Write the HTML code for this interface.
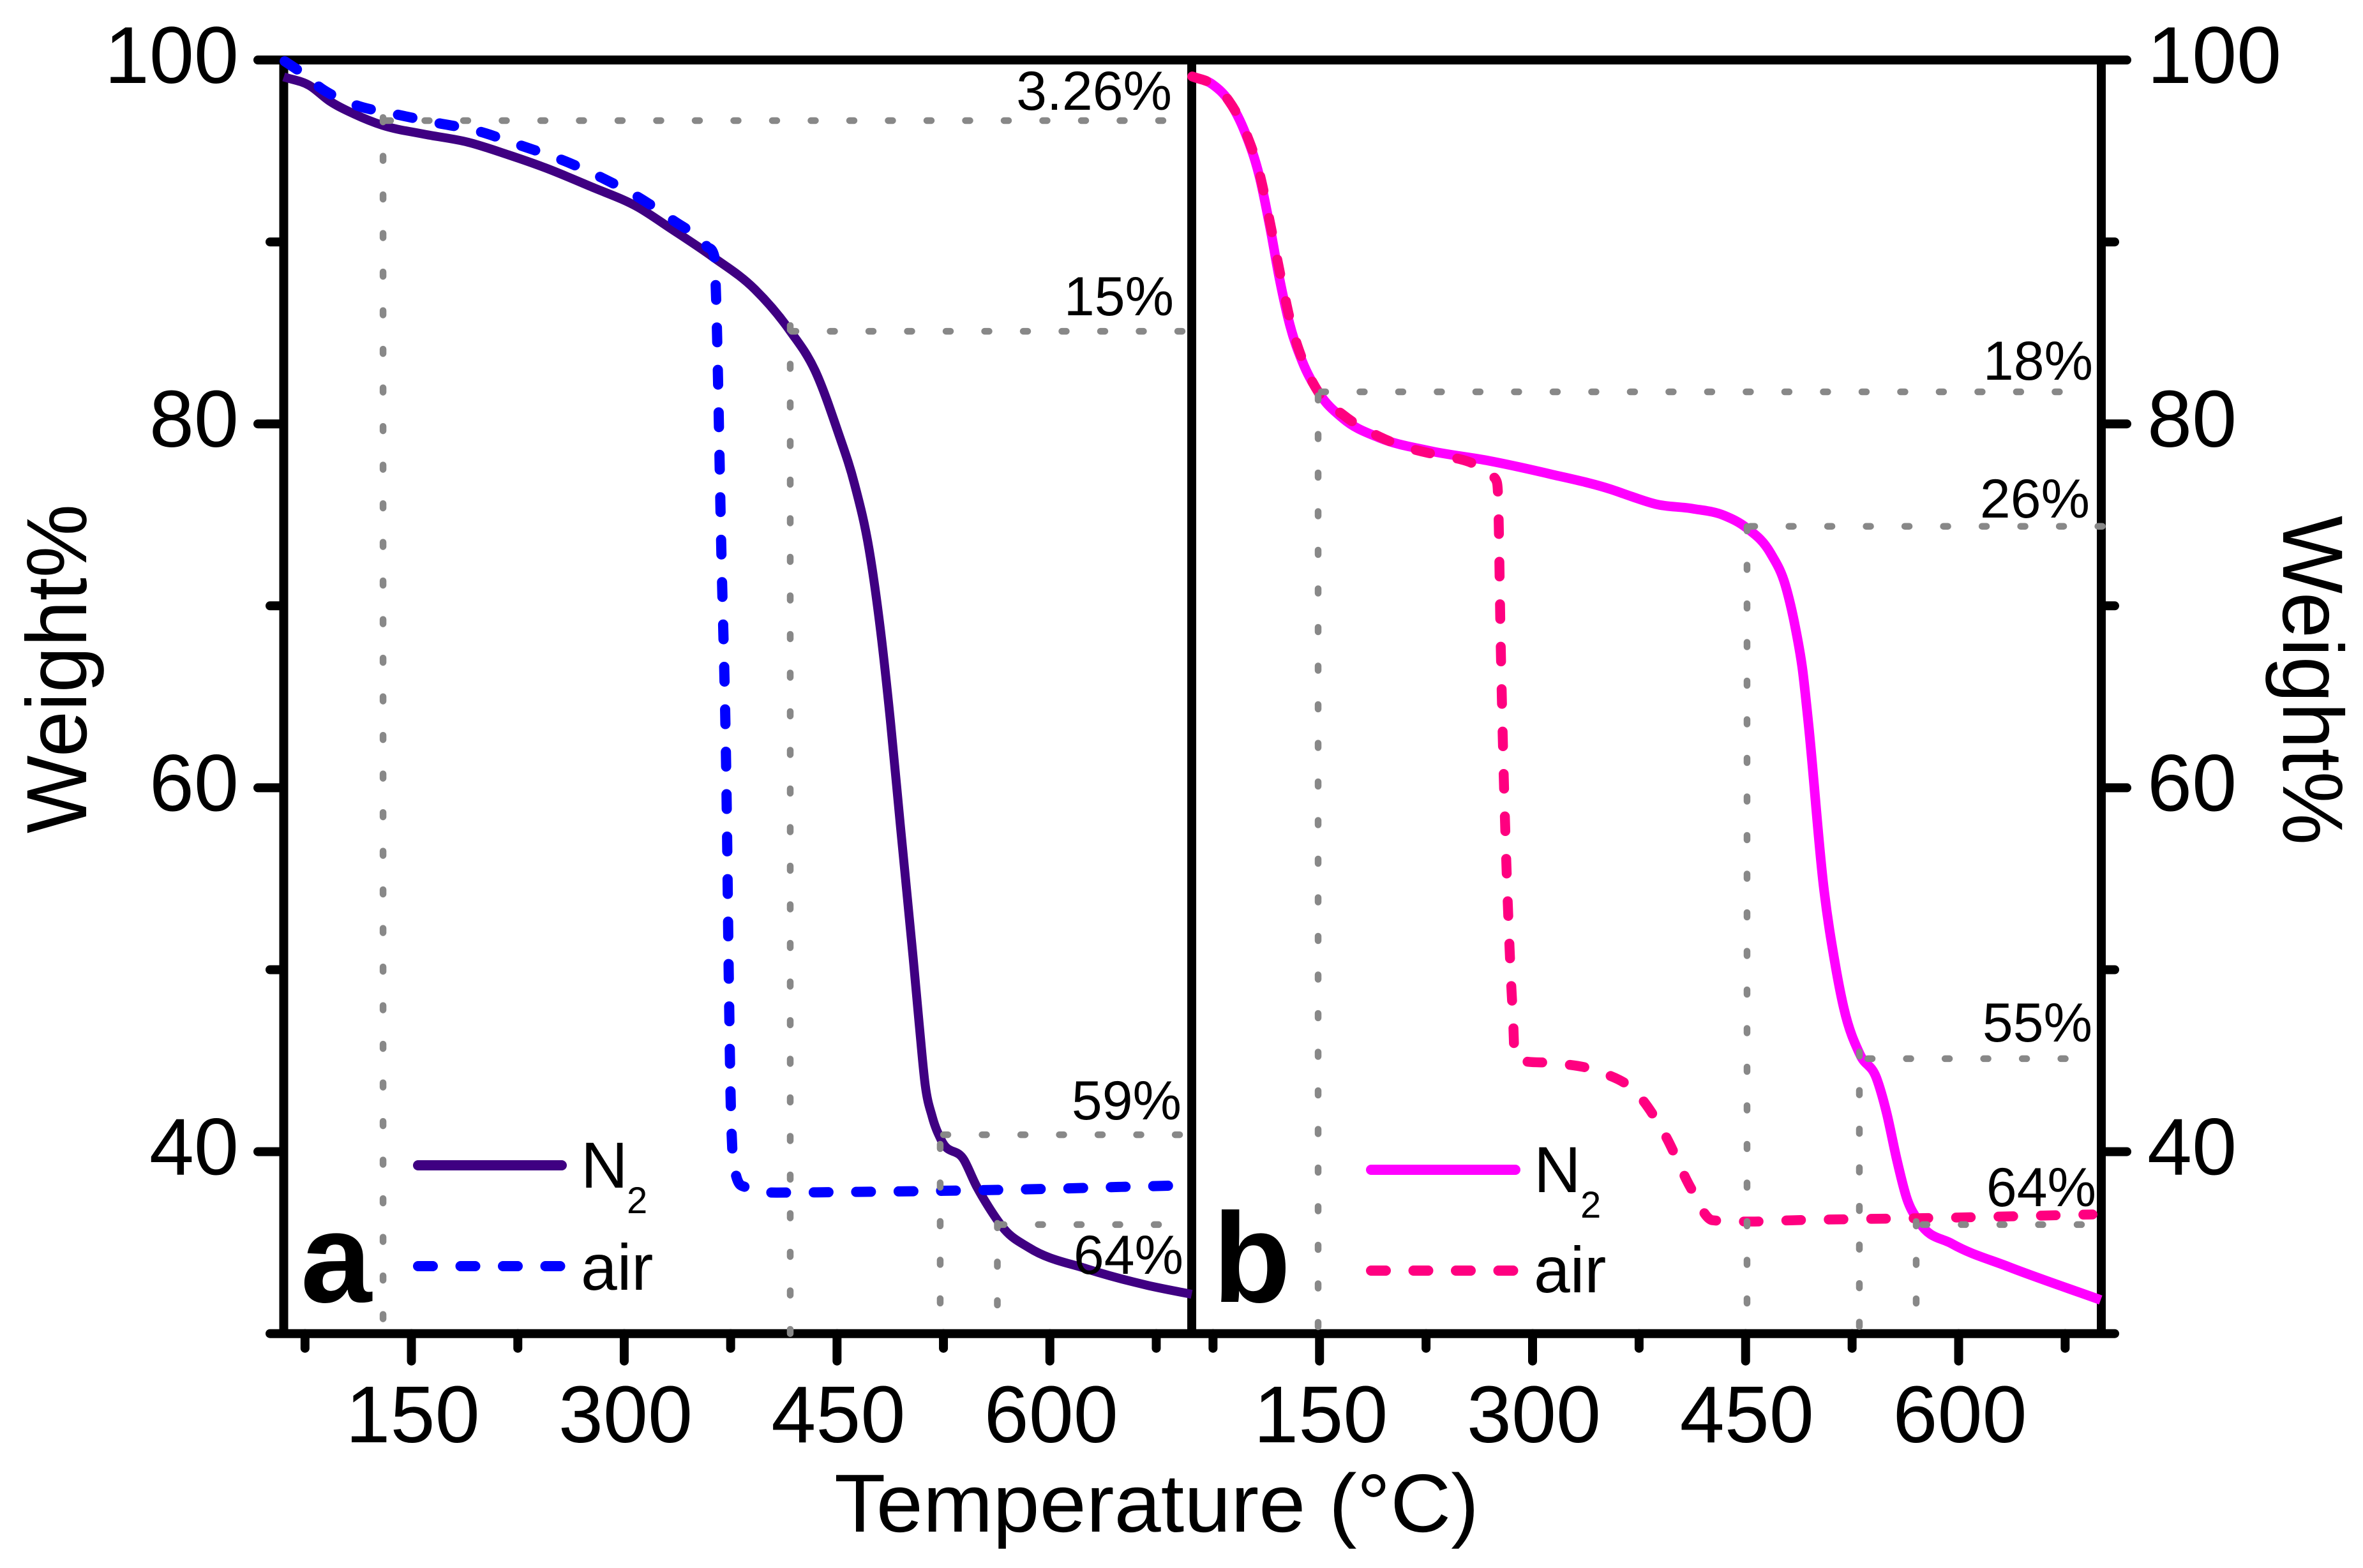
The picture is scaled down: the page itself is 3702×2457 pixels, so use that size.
<!DOCTYPE html>
<html lang="en">
<head>
<meta charset="utf-8">
<title>TGA weight loss curves</title>
<style>
html,body{margin:0;padding:0;background:#fff;}
svg{display:block;}
text{font-family:"Liberation Sans",Arial,sans-serif;fill:#000;}
</style>
</head>
<body>
<svg id="chart" xmlns="http://www.w3.org/2000/svg" width="3702" height="2457" viewBox="0 0 3702 2457">
  <rect x="0" y="0" width="3702" height="2457" fill="#fff"/>
  <g id="axes"></g>
  <g id="series"></g>
  <g id="guides"></g>
  <g id="labels"></g>

  <text transform="translate(135,1048) rotate(-90)" text-anchor="middle" font-size="134" textLength="516" lengthAdjust="spacingAndGlyphs">Weight%</text>
  <text transform="translate(3577,1066) rotate(90)" text-anchor="middle" font-size="134" textLength="516" lengthAdjust="spacingAndGlyphs">Weight%</text>
  <text x="1812" y="2400" text-anchor="middle" font-size="129" textLength="1010" lengthAdjust="spacingAndGlyphs">Temperature (°C)</text>

  <text x="1836" y="172" text-anchor="end" font-size="86">3.26%</text>
  <text x="1839" y="494" text-anchor="end" font-size="86">15%</text>
  <text x="1851" y="1754" text-anchor="end" font-size="86">59%</text>
  <text x="1854" y="1996" text-anchor="end" font-size="86">64%</text>
  <text x="3279" y="595" text-anchor="end" font-size="86">18%</text>
  <text x="3274" y="811" text-anchor="end" font-size="86">26%</text>
  <text x="3278" y="1632" text-anchor="end" font-size="86">55%</text>
  <text x="3284" y="1890" text-anchor="end" font-size="86">64%</text>

  <text x="471" y="2040" font-size="200" font-weight="bold">a</text>
  <text x="1900" y="2040" font-size="200" font-weight="bold">b</text>

  <g>
    <line x1="655" y1="1826" x2="880" y2="1826" stroke="#3f0082" stroke-width="16" stroke-linecap="round"/>
    <text x="910" y="1861" font-size="102">N</text>
    <text x="982" y="1901" font-size="58">2</text>
    <line x1="655" y1="1984" x2="878" y2="1984" stroke="#0000ff" stroke-width="16" stroke-linecap="round" stroke-dasharray="23 43.5"/>
    <text x="910" y="2021" font-size="102">air</text>
  </g>
  <g>
    <line x1="2148" y1="1833" x2="2374" y2="1833" stroke="#ff00ff" stroke-width="16" stroke-linecap="round"/>
    <text x="2403" y="1868" font-size="102">N</text>
    <text x="2476" y="1908" font-size="58">2</text>
    <line x1="2148" y1="1991" x2="2371" y2="1991" stroke="#ff0080" stroke-width="16" stroke-linecap="round" stroke-dasharray="23 43.5"/>
    <text x="2403" y="2025" font-size="102">air</text>
  </g>
</svg>
<script>
// --- tick data ---
const xMajorTicks = [150, 300, 450, 600];
const xMinorTicks = [75, 225, 375, 525, 675];
const yMajorTicks = [40, 60, 80, 100];
const yMinorTicks = [50, 70, 90];
const xTickLabels = ['150', '300', '450', '600'];
const yTickLabels = ['40', '60', '80', '100'];

// --- panel a: N2 ---
const aN2Temp = [60,78.1,92.4,109.7,129.7,158.3,190,218.6,244.5,276.2,309.9,332,362,392,417,434.5,450.5,462.4,472.6,480.7,487.6,494.7,503.6,507.9,512.2,517.1,523.6,539.4,547.9,556.7,568.2,585.3,625.5,668.5,700];
const aN2Weight = [99.07,98.6,97.74,97.03,96.41,95.93,95.48,94.78,94.07,93.05,91.9,90.78,89.2,87.4,85.1,82.93,79.59,76.67,73.1,68.61,63.7,57.87,50.68,47.03,43.63,41.92,40.62,39.55,38.16,36.98,35.71,34.72,33.57,32.66,32.16];
// --- panel a: air ---
const aAirTemp = [60.7,69.5,89.5,111.1,138.3,166.9,195.6,227.1,258.9,284.7,309.9,334,358.1,363.5,364.2,368.4,372.2,373.6,375.1,378.8,385,407.5,464.7,525,591.1,648.5,685.8];
const aAirWeight = [99.93,99.47,98.28,97.51,97.03,96.56,96.12,95.3,94.42,93.51,92.46,91.21,89.76,89.2,88.18,73.17,59.21,50.16,42.55,38.69,38.06,37.75,37.79,37.85,37.94,38.06,38.13];
// --- panel b: N2 ---
const bN2Temp = [60.4,74.8,86.1,97.8,107.6,114.8,122,129.2,137.8,149.3,166.5,192.1,226.7,269.4,312.6,355.7,369.7,386.7,412.8,435.1,450.6,467.6,478,485,490.1,494.2,504.9,513.3,519.1,530.6,542.1,549.3,556.5,563.6,572.2,595.3,635.3,700];
const bN2Weight = [99.09,98.65,97.76,95.97,93.63,90.95,87.9,85.41,83.44,81.73,80.3,79.24,78.53,77.97,77.24,76.39,76.01,75.59,75.34,74.96,74.29,72.89,71.13,68.82,66.47,63.56,54.6,50.2,47.91,45.33,44.05,42.13,39.55,37.41,36.13,34.94,33.67,31.85];
// --- panel b: air ---
const bAirTemp = [60.4,74.8,86.1,98.3,108.2,115.4,123.2,130.2,138.4,149.3,166.5,192.1,226.7,239.8,265.8,269.9,274.8,275.7,277.5,284.3,286.5,287.3,292.1,316.6,348.1,373.7,393.9,411,426.7,454.2,483.2,533.3,592.1,655.5,694.2];
const bAirWeight = [99.09,98.65,97.76,95.97,93.63,90.95,87.9,85.41,83.44,81.73,80.5,79.3,78.4,78.22,77.45,77.17,76.82,76.04,68.22,50.26,46.83,45.32,45,44.86,44.37,43.19,40.83,38.06,36.23,36.16,36.23,36.3,36.37,36.48,36.55];

// --- guides: marked onset temperatures and weights ---
const aGuideTemp = [130, 417, 522.7, 563];
const aGuideWeight = [96.67, 85.09, 40.93, 35.99];
const aGuideStartTemp = [132.2, 417.9, 525, 564.6];
const aGuideEndTemp = [681, 694.6, 692.3, 678.8];
const aGuideStartWeight = [96.84, 85.41, 40.41, 36.06];
const aGuideEndWeight = [30.76, 30, 31.57, 31.5];
const bGuideTemp = [149, 451, 530.1, 570.1];
const bGuideWeight = [81.76, 74.37, 45.11, 35.99];
const bGuideStartTemp = [151.2, 453.3, 536, 574.6];
const bGuideEndTemp = [672.6, 702.7, 677, 688.3];
const bGuideStartWeight = [81.55, 74.36, 45.49, 36.16];
const bGuideEndWeight = [30.27, 31.64, 30.34, 31.64];

// --- axis functions ---
function xA(t) { return 444.5 + (t - 60) * 2.2227; }
function xB(t) { return 1867 + (t - 60) * 2.225; }
function yW(w) { return 94 + (100 - w) * 28.51; }

const NS = 'http://www.w3.org/2000/svg';
const axesG = document.getElementById('axes');
const seriesG = document.getElementById('series');
const guidesG = document.getElementById('guides');
const labelsG = document.getElementById('labels');

function addLine(parent, name, x1, y1, x2, y2, color, width, cap, dash) {
  const el = document.createElementNS(NS, 'line');
  
  
  el.setAttribute('x1', x1);
  el.setAttribute('y1', y1);
  el.setAttribute('x2', x2);
  el.setAttribute('y2', y2);
  el.setAttribute('stroke', color);
  el.setAttribute('stroke-width', width);
  el.setAttribute('stroke-linecap', cap);
  if (dash) el.setAttribute('stroke-dasharray', dash);
  parent.appendChild(el);
}

function addLabel(name, x, y, anchor, str) {
  const el = document.createElementNS(NS, 'text');
  
  
  el.setAttribute('x', x);
  el.setAttribute('y', y);
  el.setAttribute('text-anchor', anchor);
  el.setAttribute('font-size', '126');
  el.textContent = str;
  labelsG.appendChild(el);
}

// smooth monotone cubic path through the points (x increasing)
function monotonePath(xs, ys) {
  const n = xs.length;
  const h = [], s = [], m = [];
  for (let i = 0; i < n - 1; i++) {
    h[i] = xs[i + 1] - xs[i];
    s[i] = (ys[i + 1] - ys[i]) / h[i];
  }
  m[0] = s[0];
  m[n - 1] = s[n - 2];
  for (let i = 1; i < n - 1; i++) {
    if (s[i - 1] * s[i] <= 0) {
      m[i] = 0;
    } else {
      const p = (s[i - 1] * h[i] + s[i] * h[i - 1]) / (h[i - 1] + h[i]);
      m[i] = Math.sign(s[i]) * Math.min(Math.abs(p), 3 * Math.min(Math.abs(s[i - 1]), Math.abs(s[i])));
    }
  }
  let d = 'M' + xs[0].toFixed(1) + ' ' + ys[0].toFixed(1);
  for (let i = 0; i < n - 1; i++) {
    const dx = h[i] / 3;
    d += 'C' + (xs[i] + dx).toFixed(1) + ' ' + (ys[i] + m[i] * dx).toFixed(1) + ' ' +
         (xs[i + 1] - dx).toFixed(1) + ' ' + (ys[i + 1] - m[i + 1] * dx).toFixed(1) + ' ' +
         xs[i + 1].toFixed(1) + ' ' + ys[i + 1].toFixed(1);
  }
  return d;
}

function addCurve(name, temps, weights, xFn, color, width, dash) {
  const el = document.createElementNS(NS, 'path');
  
  
  el.setAttribute('d', monotonePath(temps.map(xFn), weights.map(yW)));
  el.setAttribute('fill', 'none');
  el.setAttribute('stroke', color);
  el.setAttribute('stroke-width', width);
  el.setAttribute('stroke-linejoin', 'round');
  if (dash) {
    el.setAttribute('stroke-dasharray', dash);
    el.setAttribute('stroke-linecap', 'round');
  }
  seriesG.appendChild(el);
}

function addGuides(prefix, xFn, temps, weights, startT, endT, startW, endW) {
  const dash = '7 53.5';
  for (let i = 0; i < temps.length; i++) {
    addLine(guidesG, prefix + '-guide-horizontal-' + i, xFn(startT[i]), yW(weights[i]), xFn(endT[i]), yW(weights[i]), '#888888', 10.5, 'round', dash);
    addLine(guidesG, prefix + '-guide-vertical-' + i, xFn(temps[i]), yW(startW[i]), xFn(temps[i]), yW(endW[i]), '#888888', 10.5, 'round', dash);
  }
}

// --- frame ---
const yTop = yW(100), yBottom = yW(30);
const xLeft = xA(60), xMid = xA(700), xRight = xB(700) + 1;
addLine(axesG, 'left-axis', xLeft, yTop, xLeft, yBottom, '#000', 14, 'butt');
addLine(axesG, 'divider-axis', xMid, yTop, xMid, yBottom, '#000', 14, 'butt');
addLine(axesG, 'right-axis', xRight, yTop, xRight, yBottom, '#000', 14, 'butt');
addLine(axesG, 'top-axis', 404, yTop, 3332, yTop, '#000', 14, 'round');
addLine(axesG, 'bottom-axis', 423, yBottom, 3313, yBottom, '#000', 14, 'round');

// --- ticks ---
xMajorTicks.forEach(function (t) {
  addLine(axesG, 'x-tick-a-' + t, xA(t), yBottom, xA(t), yBottom + 43, '#000', 14, 'round');
  addLine(axesG, 'x-tick-b-' + t, xB(t), yBottom, xB(t), yBottom + 43, '#000', 14, 'round');
});
xMinorTicks.forEach(function (t) {
  addLine(axesG, 'x-minor-tick-a-' + t, xA(t), yBottom, xA(t), yBottom + 23, '#000', 14, 'round');
  addLine(axesG, 'x-minor-tick-b-' + t, xB(t), yBottom, xB(t), yBottom + 23, '#000', 14, 'round');
});
yMajorTicks.forEach(function (w) {
  if (w === 100) return;
  addLine(axesG, 'y-tick-left-' + w, xLeft, yW(w), 404, yW(w), '#000', 14, 'round');
  addLine(axesG, 'y-tick-right-' + w, xRight, yW(w), 3332, yW(w), '#000', 14, 'round');
});
yMinorTicks.forEach(function (w) {
  addLine(axesG, 'y-minor-tick-left-' + w, xLeft, yW(w), 423, yW(w), '#000', 14, 'round');
  addLine(axesG, 'y-minor-tick-right-' + w, xRight, yW(w), 3313, yW(w), '#000', 14, 'round');
});

// --- tick labels ---
xMajorTicks.forEach(function (t, i) {
  addLabel('x-tick-label-a-' + t, xA(t) + 2, 2260, 'middle', xTickLabels[i]);
  addLabel('x-tick-label-b-' + t, xB(t) + 2, 2260, 'middle', xTickLabels[i]);
});
yMajorTicks.forEach(function (w, i) {
  addLabel('y-tick-label-left-' + w, 374, yW(w) + 36, 'end', yTickLabels[i]);
  addLabel('y-tick-label-right-' + w, 3364, yW(w) + 36, 'start', yTickLabels[i]);
});

// --- series ---
addCurve('series-a-n2', aN2Temp, aN2Weight, xA, '#3f0082', 14);
addCurve('series-a-air', aAirTemp, aAirWeight, xA, '#0000ff', 16, '23 43.5');
addCurve('series-b-n2', bN2Temp, bN2Weight, xB, '#ff00ff', 15);
addCurve('series-b-air', bAirTemp, bAirWeight, xB, '#ff0080', 15.5, '23 43.5');

// --- guides ---
addGuides('panel-a', xA, aGuideTemp, aGuideWeight, aGuideStartTemp, aGuideEndTemp, aGuideStartWeight, aGuideEndWeight);
addGuides('panel-b', xB, bGuideTemp, bGuideWeight, bGuideStartTemp, bGuideEndTemp, bGuideStartWeight, bGuideEndWeight);
</script>
</body>
</html>
